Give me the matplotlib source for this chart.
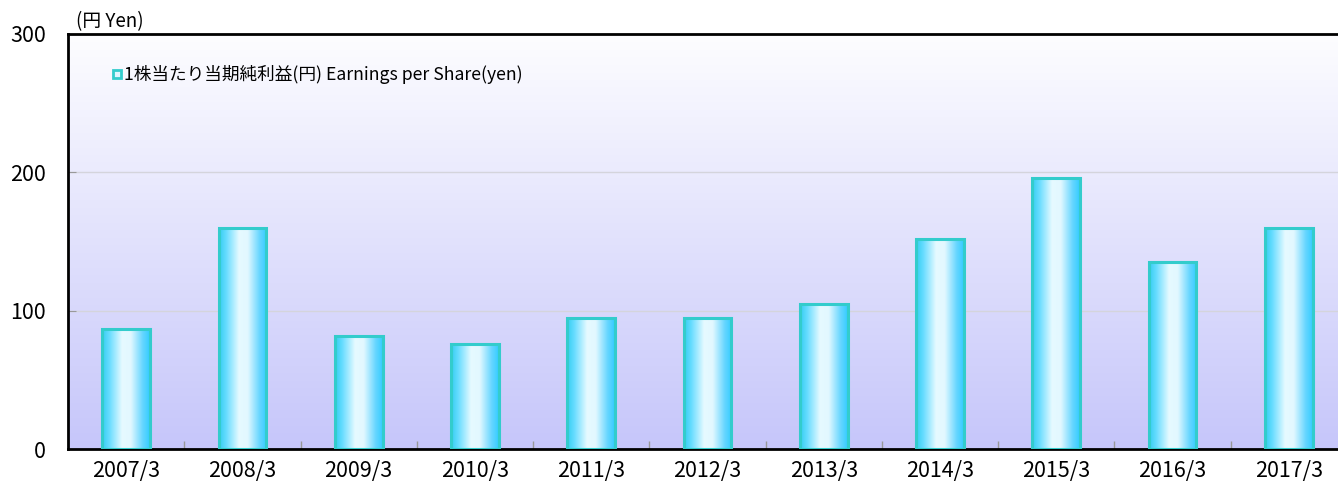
import numpy as np
import matplotlib
matplotlib.use("Agg")
import matplotlib.pyplot as plt
from matplotlib.colors import LinearSegmentedColormap
from matplotlib.patches import Rectangle

plt.rcParams['font.family'] = ['Noto Sans CJK JP', 'DejaVu Sans']

categories = ["2007/3", "2008/3", "2009/3", "2010/3", "2011/3", "2012/3",
              "2013/3", "2014/3", "2015/3", "2016/3", "2017/3"]
eps = [87, 160, 82, 76, 95, 95, 105, 152, 196, 135, 160]
yticks = [0, 100, 200, 300]
legend_label = "1株当たり当期純利益(円) Earnings per Share(yen)"
unit_label = "(円 Yen)"

fig = plt.figure(figsize=(13.38, 4.84), dpi=100)
ax = fig.add_axes([68/1338, 1-449/484, 1279/1338, (449-34)/484])

x = np.arange(len(categories))
ax.set_xlim(-0.5, len(categories)-0.5)
ax.set_ylim(0, 300)

# background gradient
bg_cmap = LinearSegmentedColormap.from_list("bg", ["#c6c6fa", "#fdfdff"])
grad = np.linspace(0, 1, 256).reshape(-1, 1)
ax.imshow(grad, cmap=bg_cmap, extent=[0, 1, 0, 1], transform=ax.transAxes,
          aspect='auto', origin='lower', zorder=0)

# grid
for yv in yticks[1:3]:
    ax.axhline(yv, color="#d4d4dc", lw=1, zorder=1)

bars = ax.bar(x, eps, width=0.41, facecolor="none", edgecolor="#33cccc",
              linewidth=2.2, zorder=3)
bar_cmap = LinearSegmentedColormap.from_list(
    "bar", [(0, "#33cdf0"), (0.15, "#66dcff"), (0.42, "#e6faff"),
            (0.6, "#e2f8ff"), (0.85, "#66d6ff"), (1, "#33ccff")])
hgrad = np.linspace(0, 1, 256).reshape(1, -1)
for b in bars:
    x0, w, h = b.get_x(), b.get_width(), b.get_height()
    im = ax.imshow(hgrad, cmap=bar_cmap, extent=[x0, x0+w, 0, h],
                   aspect='auto', zorder=2)
    im.set_clip_path(Rectangle((x0, 0), w, h, transform=ax.transData))

ax.set_xticks(x)
ax.set_xticklabels(categories, fontsize=15.5)
ax.set_xticks(np.arange(0.5, len(categories)-0.5, 1), minor=True)
ax.tick_params(axis='x', which='major', length=0, pad=8)
ax.tick_params(axis='x', which='minor', direction='in', length=6,
               color="#999999", width=1)
ax.set_yticks(yticks)
ax.set_yticklabels([str(v) for v in yticks], fontsize=15.5)
ax.tick_params(axis='y', direction='in', length=6, color="#999999", pad=16)

for s in ['left', 'bottom', 'top']:
    ax.spines[s].set_linewidth(2)
    ax.spines[s].set_color("black")
ax.spines['right'].set_visible(False)

# legend
ax.add_patch(Rectangle((113/1338, 1-78/484), 8/1338, 8/484, transform=fig.transFigure,
                       facecolor="#dff6ff", edgecolor="#33cccc", lw=2,
                       zorder=5, clip_on=False))
fig.text(124/1338, 1-74/484, legend_label, fontsize=12.7, va='center', ha='left')
fig.text(76/1338, 1-22/484, unit_label, fontsize=13.5, va='center', ha='left')

fig.savefig("out.png", dpi=100)
